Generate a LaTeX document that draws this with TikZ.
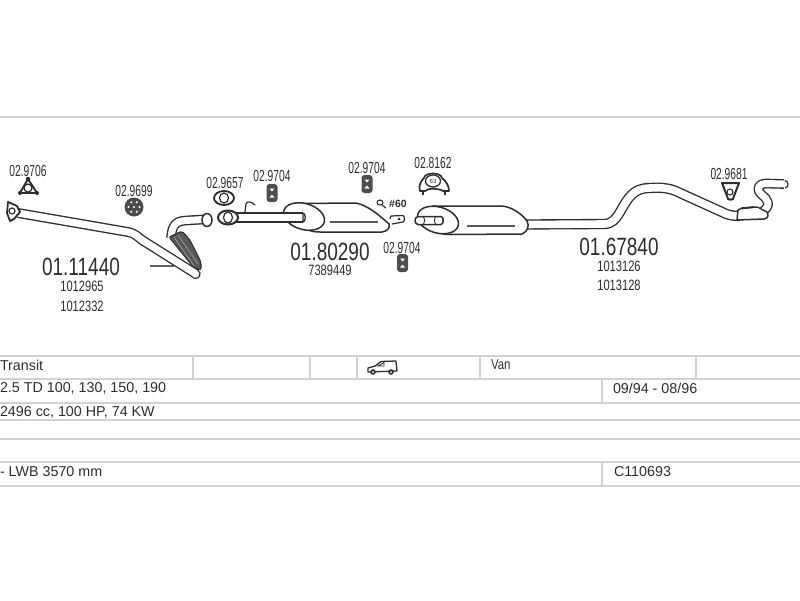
\documentclass[tikz,border=0pt]{standalone}
\usepackage{fontspec}
\usepackage{graphicx}
\setmainfont{Liberation Sans}
\definecolor{ink}{HTML}{2E2E2E}
\definecolor{rule}{HTML}{D2D2D2}
\newcommand{\partlab}[1]{\fontsize{16}{16}\selectfont\scalebox{.64}[1]{#1}}
\newcommand{\biglab}[1]{\fontsize{25}{25}\selectfont\scalebox{.76}[1]{#1}}
\newcommand{\oemlab}[1]{\fontsize{15}{15}\selectfont\scalebox{.74}[1]{#1}}
\tikzset{
  x=1pt,y=-1pt,
  every node/.style={inner sep=0pt,outer sep=0pt,text=ink},
  tabline/.style={draw=rule,line width=1.8pt},
  tabtext/.style={anchor=west,font=\fontsize{14.3}{15}\selectfont},
  pipe/.style={double=white,draw=ink,line width=1.35pt,double distance=7.2pt,line join=round},
  outline/.style={draw=ink,line width=1.5pt,fill=white,line join=round},
  hanger/.style={draw=ink,line width=1.4pt,fill=white},
  thinline/.style={draw=ink!80!white,line width=1.1pt},
}
\begin{document}
\begin{tikzpicture}
\useasboundingbox (0,0) rectangle (800,600);
\fill[white] (0,0) rectangle (800,600);
% frame rules
\draw[tabline] (0,117) -- (800,117);
\foreach \yy in {356,379,403,420,439,462,486}{\draw[tabline] (0,\yy) -- (800,\yy);}
\foreach \xx in {193,310,357,480,696}{\draw[tabline,line width=1.3pt] (\xx,356) -- (\xx,379);}
\draw[tabline,line width=1.3pt] (602,379) -- (602,403);
\draw[tabline,line width=1.3pt] (602,462) -- (602,486);
% table text
\node[tabtext] (t1) at (0,365.5) {Transit};
\node[tabtext] (t2) at (491,364.5) {\scalebox{.8}[1]{Van}};
\node[tabtext] (t3) at (0,388.5) {2.5 TD 100, 130, 150, 190};
\node[tabtext] (t4) at (613,388.5) {09/94 - 08/96};
\node[tabtext] (t5) at (0,412) {2496 cc, 100 HP, 74 KW};
\node[tabtext] (t6) at (0,472) {- LWB 3570 mm};
\node[tabtext] (t7) at (614,472) {C110693};
% van icon
\draw[draw=ink,line width=1.3pt,fill=white,line join=round] (368,372) -- (368,368) -- (375,366) -- (381,361.5) -- (396,361) -- (397,371) -- (368,372) -- cycle;
\draw[ink,line width=.9pt] (378,366) -- (384,362.5) -- (384,366) -- cycle;
\fill[ink] (373,372) circle (2.8) (391,372) circle (2.8);
\fill[white] (373,372) circle (1) (391,372) circle (1);
% front pipe
\draw[draw=ink!75!white,line width=1.7pt] (150,266) -- (174,266);
\draw[pipe] (18,213) -- (128,232) .. controls (134,233) and (137,236) .. (142,240) -- (196,274);
\draw[outline,line width=1.2pt] (193,278) .. controls (197,279) and (200,278) .. (200,273) -- (197,269);
\draw[outline,line width=1.8pt] (8,202) -- (17,206) -- (20,212) -- (14,219) -- (10,221) -- (7,213) -- cycle;
\draw[hanger,line width=1.2pt] (12,211) circle (3);
% catalyst and bent pipe
\draw[pipe,double distance=7pt] (171,238) .. controls (172,226) and (175,221) .. (186,220.5) -- (203,219.5);
\draw[outline] (207,220) ellipse (5 and 6.5);
\draw[draw=ink,fill=ink!80!white,line width=1pt,rounded corners=2pt] (169,237) -- (182,231) -- (190,240) -- (201,262) -- (201,270) -- (194,268) -- cycle;
\draw[white!60!ink,line width=.5pt] (174,237) -- (194,266) (178,235) -- (198,264);
% rings and hangers, left
\node (a9706) at (28,171) {\partlab{02.9706}};
\draw[hanger,line width=1.9pt,line join=round] (28,179) -- (20,193) -- (37,193) -- cycle;
\draw[hanger,line width=1.2pt] (28,188) circle (4);
\fill[ink] (28,179) circle (2.2) (20,193) circle (2) (37,193) circle (2);
\node (a9699) at (134,191) {\partlab{02.9699}};
\fill[ink!85!white] (134,207) circle (9.5);
\foreach \ang in {0,60,...,300}{\fill[white] (134,207) ++(\ang:5.5) circle (1.2);}
\fill[white] (134,207) circle (1.2);
\node (a9657) at (225,183) {\partlab{02.9657}};
\draw[hanger,line width=1.8pt] (224,198) ellipse (10 and 7);
\draw[hanger,line width=1.2pt] (224,198) ellipse (4.5 and 5);
% intermediate muffler
\draw[outline] (298,203.5) -- (356,203) .. controls (370,206) and (382,218) .. (389,224) .. controls (390,229) and (387,231) .. (382,232) -- (320,232) .. controls (314,232) and (310,231) .. (306,229);
\draw[outline,rotate around={-16:(304,216.5)}] (304,216.5) ellipse (21 and 13);
\draw[pipe,double distance=7.5pt] (236,217.5) -- (303,217.5);
\draw[outline,line width=1.3pt] (303,213) .. controls (306,213) and (306,222) .. (303,222) -- (303,213);
\draw[hanger,line width=2pt] (228,217.5) ellipse (10 and 7);
\draw[hanger,line width=1.2pt] (228,217.5) ellipse (4.5 and 5.5);
\draw[ink,line width=1.2pt,line cap=round] (245,212) -- (246,204) .. controls (247,201) and (251,201) .. (255,205);
\draw[thinline] (330,222) -- (378,222);
\draw[outline,line width=1.2pt] (390,219) -- (391,216) -- (403,215.5) .. controls (405,217) and (405,221) .. (403,222) -- (392,224);
\fill[ink] (399,219) circle (1.5);
% clamp and #60
\draw[hanger,line width=1.1pt] (380,202.5) ellipse (3 and 2.5);
\draw[ink,line width=1.1pt] (382,205) -- (386,208);
\node (h60) at (398,204) {\fontsize{10.5}{10.5}\selectfont\bfseries \#60};
% middle hangers
\node (a9704a) at (272,176) {\partlab{02.9704}};
\node (a9704b) at (367,168) {\partlab{02.9704}};
\node (a9704c) at (402,248) {\partlab{02.9704}};
\foreach \hx/\hy in {272/193,367/184,402.5/263}{
  \fill[ink!85!white,rounded corners=3pt] (\hx-5.5,\hy-9) rectangle (\hx+5.5,\hy+9);
  \fill[white] (\hx-2.5,\hy-4.5) -- (\hx+2.5,\hy-4.5) -- (\hx,\hy-1.5) -- cycle;
  \fill[white] (\hx-2.5,\hy+4.5) -- (\hx+2.5,\hy+4.5) -- (\hx,\hy+1.5) -- cycle;
}
% 02.8162
\node (a8162) at (433,163) {\partlab{02.8162}};
\draw[outline,line width=1.7pt] (420,191) .. controls (418,186) and (421,181) .. (424,178) .. controls (425,172) and (441,172) .. (442,178) .. controls (446,181) and (449,186) .. (449,191) -- (443,191) .. controls (438,188) and (428,188) .. (425,191) -- cycle;
\draw[hanger,line width=1.3pt] (433,181) ellipse (7.5 and 6);
\draw[ink,line width=1.8pt] (423,191) -- (423,195) (445,191) -- (445,195);
\node (a63) at (433,181) {\fontsize{6}{6}\selectfont 63};
% rear muffler
\draw[pipe,double distance=7.6pt] (524,224.5) -- (604,224) .. controls (612,224) and (616,219) .. (620,212) .. controls (628,198) and (633,188) .. (650,188) .. controls (665,187) and (672,189) .. (680,193) -- (722,212) .. controls (727,215) and (733,216) .. (740,216);
\draw[outline] (432,206) -- (502,206) .. controls (512,207) and (522,214) .. (527,221) .. controls (530,226) and (527,232) .. (522,234) -- (450,234.5) .. controls (446,234.5) and (443,234) .. (440,233);
\draw[outline,rotate around={-16:(438,220)}] (438,220) ellipse (21 and 13);
\draw[outline] (418,216.5) -- (441,216.5) .. controls (444,217) and (444,224) .. (441,224.5) -- (418,224.5) .. controls (414,224) and (414,217) .. (418,216.5) -- cycle;
\draw[ink,line width=.9pt] (423,216.5) .. controls (425,218) and (425,223) .. (423,224.5);
\draw[ink,line width=.9pt] (436,216.5) .. controls (434,218) and (434,223) .. (436,224.5);
\draw[thinline] (467,226) -- (515,226);
% tail end
\draw[pipe,double distance=7pt] (762,212) .. controls (772,205) and (768,200) .. (762,195) .. controls (756,190) and (757,184) .. (766,183.5) -- (784,184);
\draw[outline,line width=1.2pt] (785,180.5) .. controls (789,181) and (789,188) .. (785,188);
\draw[outline] (738,210) -- (742,208) -- (757,207) -- (767,212) .. controls (769,216) and (768,218) .. (764,219) -- (737,220) -- cycle;
\draw[draw=white,line width=2.6pt] (757,209) -- (763,213.5);
\draw[ink,line width=1.8pt] (742,208.5) -- (754,207);
\node (a9681) at (729,174) {\partlab{02.9681}};
\draw[hanger,line width=2pt,line join=round] (722,183) -- (739,183) -- (734,196) -- (733,199) .. controls (731,200) and (730,200) .. (728,199) -- (727,196) -- cycle;
\draw[hanger,line width=1.1pt] (730,192) circle (3);
% part numbers
\node (p1) at (81,267) {\biglab{01.11440}};
\node (p1a) at (82,286) {\oemlab{1012965}};
\node (p1b) at (82,306) {\oemlab{1012332}};
\node (p2) at (330,251.5) {\biglab{01.80290}};
\node (p2a) at (330,270.5) {\oemlab{7389449}};
\node (p3) at (619,247) {\biglab{01.67840}};
\node (p3a) at (619,266) {\oemlab{1013126}};
\node (p3b) at (619,285) {\oemlab{1013128}};
\end{tikzpicture}
\end{document}
